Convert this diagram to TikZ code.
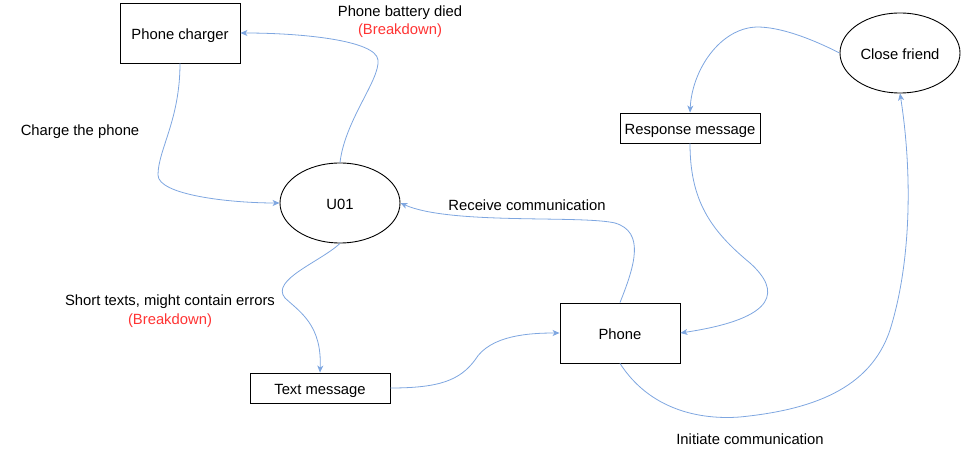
\documentclass[tikz,border=0pt]{standalone}
\usepackage{fontspec}
\setmainfont{Liberation Sans}
\usetikzlibrary{shapes.geometric,arrows.meta}
\definecolor{linkblue}{HTML}{7EA6E0}
\definecolor{bdred}{HTML}{FF3333}

\begin{document}
\begin{tikzpicture}[x=1pt,y=-1pt,
                    every node/.style={font=\fontsize{14.8}{18}\selectfont,inner sep=0pt,text height=12.5pt,text depth=0pt},
                    box/.style={draw,line width=0.9pt,minimum width=140pt,minimum height=30pt},
                    big/.style={box,minimum width=120pt,minimum height=60pt},
                    oval/.style={draw,ellipse,line width=0.9pt,minimum width=120pt,minimum height=80pt},
                    bd/.style={text=bdred},
                    link/.style={linkblue,line width=0.8pt,-{Stealth[length=7pt,width=6pt,inset=2pt]}}]
  \useasboundingbox (0,0) rectangle (961,454);
  \node[big] (charger) at (180,33) {Phone charger};
  \node[oval] (u01) at (340,203) {U01};
  \node[oval] (friend) at (900,53) {Close friend};
  \node[box] (resp) at (690,128) {Response message};
  \node[box] (textmsg) at (320,388) {Text message};
  \node[big] (phone) at (620,333) {Phone};
  \node (died) at (400,10) {Phone battery died};
  \node[bd] (died-bd) at (400,28) {(Breakdown)};
  \node (charge) at (80,129) {Charge the phone};
  \node (receive) at (527,204) {Receive communication};
  \node (short) at (170,299) {Short texts, might contain errors};
  \node[bd] (short-bd) at (170,318) {(Breakdown)};
  \node (initiate) at (750,438) {Initiate communication};
  \draw[link] (charger.south) .. controls (180,120) and (158,150) .. (158,175)
              .. controls (158,195) and (230,203) .. (u01.west);
  \draw[link] (u01.north) .. controls (345,120) and (380,80) .. (378,60)
              .. controls (376,40) and (300,33) .. (charger.east);
  \draw[link] (phone.north) .. controls (635,265) and (645,232) .. (615,223)
              .. controls (580,215) and (450,225) .. (u01.east);
  \draw[link] (u01.south) .. controls (320,262) and (270,280) .. (285,298)
              .. controls (300,312) and (322,325) .. (textmsg.north);
  \draw[link] (textmsg.east) .. controls (440,388) and (460,380) .. (475,360)
              .. controls (490,335) and (530,333) .. (phone.west);
  \draw[link] (resp.south) .. controls (690,200) and (710,230) .. (750,263)
              .. controls (780,290) and (780,318) .. (phone.east);
  \draw[link] (friend.west) .. controls (810,38) and (780,27) .. (757,27)
              .. controls (720,28) and (692,70) .. (resp.north);
  \draw[link] (phone.south) .. controls (650,410) and (700,420) .. (740,417)
              .. controls (810,410) and (870,390) .. (890,330)
              .. controls (912,260) and (912,170) .. (friend.south);
\end{tikzpicture}
\end{document}
